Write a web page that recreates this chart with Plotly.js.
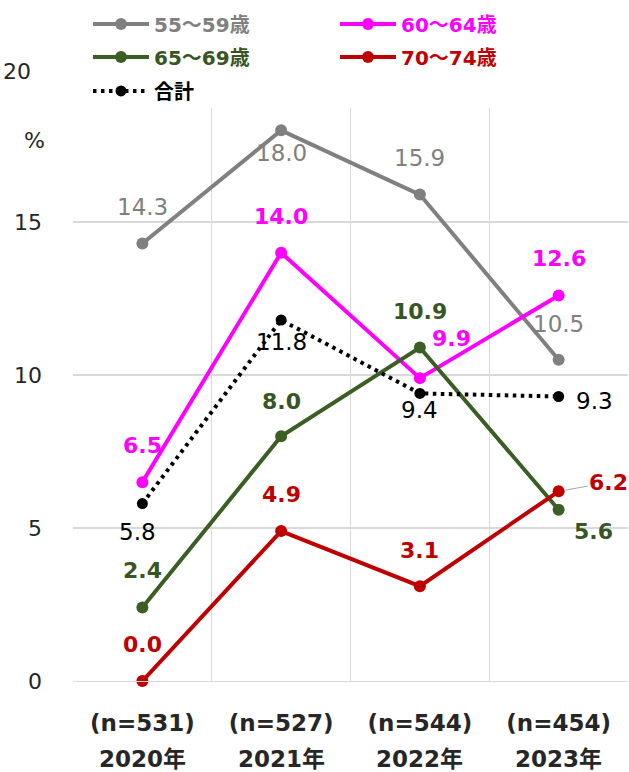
<!DOCTYPE html>
<html>
<head>
<meta charset="utf-8">
<script src="https://cdn.plot.ly/plotly-3.0.1.min.js"></script>
<style>html,body{margin:0;padding:0;background:#fff;}#chart{width:629px;height:772px;}</style>
</head>
<body>
<div id="chart"></div>
<script>
// ---- data ----
const categories = ['2020年', '2021年', '2022年', '2023年'];
const sampleSizes = ['(n=531)', '(n=527)', '(n=544)', '(n=454)'];
const seriesNames = ['55～59歳', '60～64歳', '65～69歳', '70～74歳', '合計'];
const age5559 = [14.3, 18.0, 15.9, 10.5];
const age6064 = [6.5, 14.0, 9.9, 12.6];
const age6569 = [2.4, 8.0, 10.9, 5.6];
const age7074 = [0.0, 4.9, 3.1, 6.2];
const total = [5.8, 11.8, 9.4, 9.3];
const yTickVals = [0, 5, 10, 15];

// ---- styles (label offsets in px: [dx, dy], dy positive = down) ----
const FONT = 'DejaVu Sans, "Noto Sans CJK JP", sans-serif';
const styles = [
  {color: '#808080', lineColor: '#808080', bold: false, dash: 'solid', legend: 'legend',
   off: [[0, -37], [0, 23], [0, -37], [0, -36]]},
  {color: '#ff00ff', lineColor: '#ff00ff', bold: true, dash: 'solid', legend: 'legend',
   off: [[0, -37], [0, -36], [32, -40], [0, -37]]},
  {color: '#375623', lineColor: '#3b5e25', bold: true, dash: 'solid', legend: 'legend2',
   off: [[0, -37], [0, -35], [0, -36], [35, 22]]},
  {color: '#c00000', lineColor: '#c00000', bold: true, dash: 'solid', legend: 'legend2',
   off: [[0, -37], [0, -37], [0, -36], [50, -9]]},
  {color: '#000000', lineColor: '#000000', bold: false, dash: '3.5px,4.5px', legend: 'legend3',
   off: [[-5, 28], [0, 22], [0, 17], [36, 5]]}
];
const allSeries = [age5559, age6064, age6569, age7074, total];

const traces = allSeries.map((vals, i) => {
  const s = styles[i];
  return {
    type: 'scatter', mode: 'lines+markers',
    x: categories, y: vals,
    name: '<span style="color:' + s.color + ';font-weight:bold">' + seriesNames[i] + '</span>',
    legend: s.legend,
    line: {color: s.lineColor, width: 4, dash: s.dash},
    marker: {color: s.lineColor, size: i === 4 ? 11 : 12},
    cliponaxis: false,
    hoverinfo: 'skip'
  };
});

const annotations = [];
allSeries.forEach((vals, i) => {
  const s = styles[i];
  vals.forEach((v, j) => {
    const o = s.off[j];
    const a = {
      x: categories[j], y: v, xref: 'x', yref: 'y',
      text: v.toFixed(1), showarrow: false,
      xanchor: 'center', yanchor: 'middle',
      xshift: o[0], yshift: -o[1],
      font: {family: FONT, size: s.bold ? 22 : 23, color: s.color, weight: s.bold ? 'bold' : 'normal'}
    };
    if (i === 3 && j === 3) {
      // leader line for 6.2
      a.showarrow = true; a.arrowhead = 0; a.arrowwidth = 1; a.arrowcolor = '#a6a6a6';
      a.ax = o[0]; a.ay = o[1]; a.axref = 'pixel'; a.ayref = 'pixel';
      a.standoff = 7; a.xshift = 0; a.yshift = 0;
    }
    annotations.push(a);
  });
});
// year line of the category labels
categories.forEach(c => {
  annotations.push({
    x: c, xref: 'x', y: 0, yref: 'paper', yanchor: 'top', xanchor: 'center',
    yshift: -63, showarrow: false, text: c,
    font: {family: FONT, size: 23, color: '#262626', weight: 'bold'}
  });
});
// "20" tick label above the plot and the unit
annotations.push({x: -0.072, y: 1.063, xref: 'paper', yref: 'paper', xanchor: 'right', yanchor: 'middle',
  text: '20', showarrow: false, font: {family: FONT, size: 22, color: '#262626'}});
annotations.push({x: -0.070, y: 0.944, xref: 'paper', yref: 'paper', xanchor: 'center', yanchor: 'middle',
  text: '%', showarrow: false, font: {family: FONT, size: 22, color: '#262626'}});

const legendBase = {
  orientation: 'h', xanchor: 'left', yanchor: 'middle', x: 0.027,
  entrywidth: 176, entrywidthmode: 'pixels', itemwidth: 56,
  bgcolor: 'rgba(0,0,0,0)', borderwidth: 0,
  font: {family: FONT, size: 20, color: '#000', weight: 'bold'}
};

const layout = {
  width: 629, height: 772,
  margin: {l: 73, r: 1, t: 108, b: 91, pad: 0, autoexpand: false},
  paper_bgcolor: '#ffffff', plot_bgcolor: '#ffffff',
  font: {family: FONT, color: '#262626'},
  showlegend: true,
  legend: Object.assign({}, legendBase, {y: 1.1466}),
  legend2: Object.assign({}, legendBase, {y: 1.089}),
  legend3: Object.assign({}, legendBase, {y: 1.0297}),
  xaxis: {
    type: 'category', categoryorder: 'array', categoryarray: categories,
    tickvals: categories, ticktext: sampleSizes, tickson: 'boundaries',
    showgrid: true, gridcolor: '#d9d9d9', gridwidth: 1.3,
    showline: true, linecolor: '#d9d9d9', linewidth: 1.3,
    ticks: '', ticklabelstandoff: 21,
    tickfont: {family: FONT, size: 23, color: '#262626', weight: 'bold'},
    range: [-0.5, 3.5], fixedrange: true
  },
  yaxis: {
    range: [0, 18.73], tickvals: yTickVals, ticktext: yTickVals.map(String),
    showgrid: true, gridcolor: '#d9d9d9', gridwidth: 1.3,
    zeroline: false, showline: false, ticks: '', ticklabelstandoff: 30,
    tickfont: {family: FONT, size: 22, color: '#262626'}, fixedrange: true
  },
  annotations: annotations
};

Plotly.newPlot('chart', traces, layout, {displayModeBar: false, staticPlot: true});
</script>
</body>
</html>
